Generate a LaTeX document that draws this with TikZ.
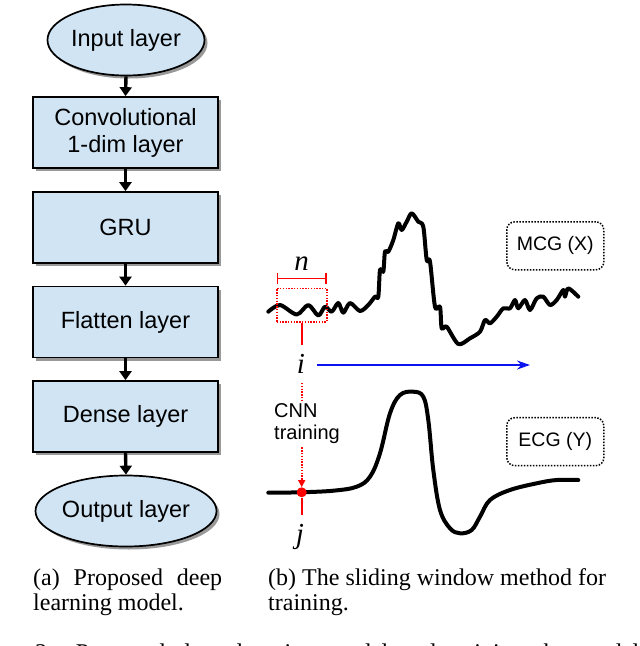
\documentclass[tikz,border=0pt]{standalone}
\usepackage{fontspec}
\setmainfont{Liberation Serif}
\newfontfamily\arial{Liberation Sans}
\usetikzlibrary{shapes.geometric,shadows,arrows.meta}
\definecolor{boxblue}{RGB}{208,228,244}
\definecolor{sigblue}{RGB}{10,20,240}
\begin{document}
\begin{tikzpicture}[x=1pt,y=-1pt,
  layer/.style={draw=black, line width=1.7pt, fill=boxblue,
    minimum width=185pt, minimum height=71pt, inner sep=0pt,
    font=\arial\fontsize{23.5}{27}\selectfont, align=center,
    drop shadow={shadow xshift=3pt, shadow yshift=-3pt, fill=black!40, opacity=1}},
  endlayer/.style={layer, ellipse, minimum width=157pt, minimum height=71pt},
  flow/.style={line width=3.4pt, -{Triangle[width=12pt,length=9pt]}},
  sig/.style={line width=4pt, line join=round, line cap=round},
  tagbox/.style={draw=black, rounded corners=8pt, line width=1.5pt,
    dash pattern=on 1.5pt off 1.5pt, minimum width=97pt, minimum height=48pt,
    font=\arial\fontsize{19.5}{22}\selectfont},
  mathlbl/.style={font=\itshape\fontsize{29}{29}\selectfont, inner sep=0pt, anchor=base},
  captext/.style={font=\fontsize{24}{24}\selectfont, inner sep=0pt, anchor=base west}
]
\useasboundingbox (0,0) rectangle (640,646);

% ---- left flow chart ----
\node[endlayer] (in) at (126,40) {Input layer};
\node[layer] (conv) at (125.5,132.5) {Convolutional\\1-dim layer};
\node[layer] (gru) at (125.5,227.5) {GRU};
\node[layer] (flat) at (125.5,322) {Flatten layer};
\node[layer] (dense) at (125.5,416.5) {Dense layer};
\node[endlayer] (out) at (126,511) {Output layer};
\draw[flow] (in.south) -- (conv.north);
\draw[flow] (conv) -- (gru);
\draw[flow] (gru) -- (flat);
\draw[flow] (flat) -- (dense);
\draw[flow] (dense.south) -- (out.north);

% ---- MCG signal ----
\draw[sig] plot[smooth, tension=0.5] coordinates {
 (268.3,311.7) (280,305) (296.7,314.5) (308.3,305) (318.3,315.5) (325,306.7)
 (331.7,311.7) (338.3,303) (343.3,312.7) (350,303) (360,311) (368.3,305)
 (375,296.7) (378.3,296.7) (380,270) (383.3,271.7) (385,251.7) (388.3,251.7)
 (393.3,240) (398.3,223.3) (401.7,230) (406.7,221.7) (411.7,213.3) (418.3,221.7)
 (423.3,226.7) (426.7,260) (430,261.7) (435,306.7) (440,306.7) (441.7,328.3)
 (446.7,326.7) (458.3,344) (470,338.3) (480,331.7) (485,320) (490,323.3)
 (496.7,316.7) (503.3,308.3) (510,308.3) (515,300) (518.3,308.3) (525,300)
 (530,310) (536.7,298.3) (543.3,296.7) (550,305) (556.7,300) (563.3,290)
 (565,296.7) (568.3,288.3) (578.3,296.7)};

% ---- ECG signal ----
\draw[sig] plot[smooth, tension=0.6] coordinates {
 (268.3,492.7) (300,492.3) (333.3,490.7) (356.7,486.7) (370,476.7) (380,453.3)
 (390,413.3) (400,395) (413.3,391.7) (423.3,396.7) (428.3,420) (433.3,470)
 (440,510) (450,528.3) (460,533.3) (471.7,530) (480,516.7) (490,500)
 (510,490) (536.7,483.3) (556.7,480) (578.3,480)};

% ---- tags ----
\node[tagbox] (mcg) at (555.3,245.8) {MCG (X)};
\node[tagbox] (ecg) at (555.3,441.7) {ECG (Y)};

% ---- sliding window ----
\node[draw=red, line width=1.6pt, dash pattern=on 1.4pt off 1.4pt,
      minimum width=50pt, minimum height=33.4pt, inner sep=0pt] (win) at (301.7,305) {};
\coordinate (nl) at (276.7,278.3);
\coordinate (nr) at (326.7,278.3);
\draw[red, line width=1.6pt, {Bar[width=11pt]}-{Bar[width=11pt]}] (nl) -- (nr);
\node[mathlbl] (nlab) at (301.7,270) {n};
\coordinate (ibot) at (301.7,345);
\draw[red, line width=1.8pt] (win.south) -- (ibot);
\node[mathlbl] (ilab) at (301,373) {i};
\coordinate (bs) at (317,365);
\coordinate (be) at (530,365);
\draw[sigblue, line width=2.2pt, -{Stealth[length=13pt,width=9pt]}] (bs) -- (be);

\node[circle, fill=red, minimum size=10pt, inner sep=0pt] (jdot) at (301.7,492.3) {};
\coordinate (itop) at (301.7,383);
\draw[red, line width=1.6pt, dash pattern=on 1.4pt off 1.4pt,
      -{Triangle[width=7pt,length=7pt]}] (itop) -- (jdot.north);
\coordinate (jbot) at (301.7,515);
\draw[red, line width=1.8pt] (jdot) -- (jbot);
\node[mathlbl] (jlab) at (300,543) {j};

\node[anchor=west, align=left, inner sep=1.5pt, fill=white,
      font=\arial\fontsize{20}{22}\selectfont] (cnn) at (272.5,424) {CNN\\training};

% ---- captions ----
\node[captext] (capa1) at (33,585) {\makebox[189pt][s]{(a) Proposed deep}};
\node[captext] (capa2) at (33,610) {learning model.};
\node[captext] (capb1) at (268,585) {(b) The sliding window method for};
\node[captext] (capb2) at (268,610) {training.};
\begin{scope}
\clip (0,0) rectangle (640,646);
\node[captext] (capmain) at (35,660) {\makebox[604pt][s]{3: Proposed deep learning model and training the model}};
\end{scope}
\end{tikzpicture}
\end{document}
